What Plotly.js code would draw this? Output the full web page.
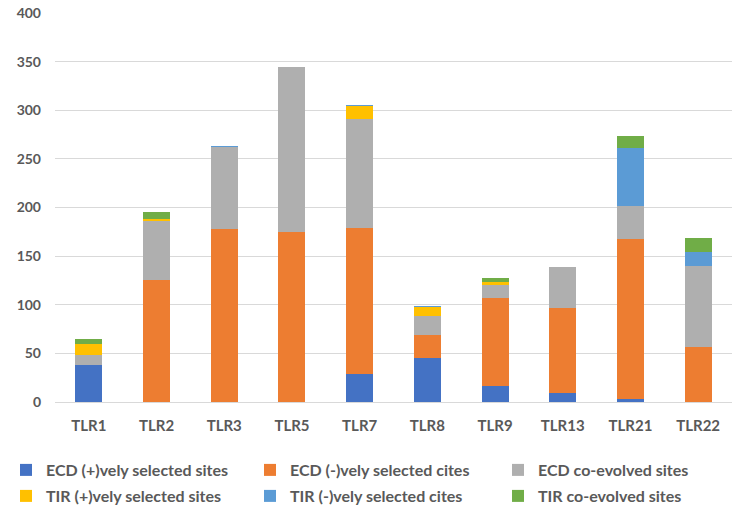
<!DOCTYPE html>
<html>
<head>
<meta charset="utf-8">
<script src="https://cdn.plot.ly/plotly-3.0.1.min.js"></script>
<style>html,body{margin:0;padding:0;background:#fff;}#chart{width:749px;height:514px;}</style>
</head>
<body>
<div id="chart"></div>
<script>
const categories = ["TLR1","TLR2","TLR3","TLR5","TLR7","TLR8","TLR9","TLR13","TLR21","TLR22"];
const seriesNames = ["ECD (+)vely selected sites","ECD (-)vely selected cites","ECD co-evolved sites","TIR (+)vely selected sites","TIR (-)vely selected cites","TIR co-evolved sites"];
const ecdPos   = [38,   0,   0,   0,  29, 45, 16,  9,   3,  0];
const ecdNeg   = [ 0, 125, 178, 175, 150, 24, 91, 88, 165, 57];
const ecdCo    = [10,  61,  84, 169, 112, 19, 13, 42,  34, 83];
const tirPos   = [12,   2,   0,   0,  13, 10,  3,  0,   0,  0];
const tirNeg   = [ 0,   0,   1,   0,   1,  1,  0,  0,  59, 14];
const tirCo    = [ 5,   7,   0,   0,   0,  0,  5,  0,  13, 15];
const colors = ["#4472C4","#ED7D31","#AFAFAF","#FFC000","#5B9BD5","#70AD47"];
const series = [ecdPos, ecdNeg, ecdCo, tirPos, tirNeg, tirCo];

const font = "Lato, 'Liberation Sans', 'DejaVu Sans', sans-serif";
const legendIds = ["legend","legend2","legend3","legend4","legend5","legend6"];
const traces = series.map((vals, i) => ({
  type: "bar",
  name: seriesNames[i],
  x: categories,
  y: vals,
  legend: legendIds[i],
  marker: {color: colors[i], line: {width: 0}},
  hoverinfo: "x+y+name"
}));

const colX = [6, 250, 498];
const rowTop = [453, 479];

const layout = {
  width: 749, height: 514,
  margin: {l: 55, r: 17, t: 13, b: 112},
  barmode: "stack",
  bargap: 0.6,
  paper_bgcolor: "#fff",
  plot_bgcolor: "#fff",
  font: {family: font, color: "#595959", size: 14, weight: "bold"},
  xaxis: {
    type: "category",
    showgrid: false,
    showline: true,
    linecolor: "#D9D9D9",
    linewidth: 1,
    ticks: "",
    ticklabelstandoff: 10,
    tickfont: {size: 15, color: "#595959", weight: "bold"}
  },
  yaxis: {
    range: [0, 400],
    dtick: 50,
    showgrid: true,
    gridcolor: "#D9D9D9",
    gridwidth: 1,
    zeroline: false,
    showline: false,
    ticks: "",
    ticklabelstandoff: 13,
    tickfont: {size: 14, color: "#595959", weight: "bold"}
  },
  showlegend: true
};

legendIds.forEach((id, i) => {
  layout[id] = {
    orientation: "h",
    xref: "container", yref: "container",
    x: colX[i % 3] / 749, xanchor: "left",
    y: 1 - rowTop[Math.floor(i / 3)] / 514, yanchor: "top",
    font: {size: 16, color: "#595959", weight: "bold"},
    itemwidth: 30,
    bgcolor: "rgba(0,0,0,0)"
  };
});

Plotly.newPlot("chart", traces, layout, {displayModeBar: false, staticPlot: true});
</script>
</body>
</html>
